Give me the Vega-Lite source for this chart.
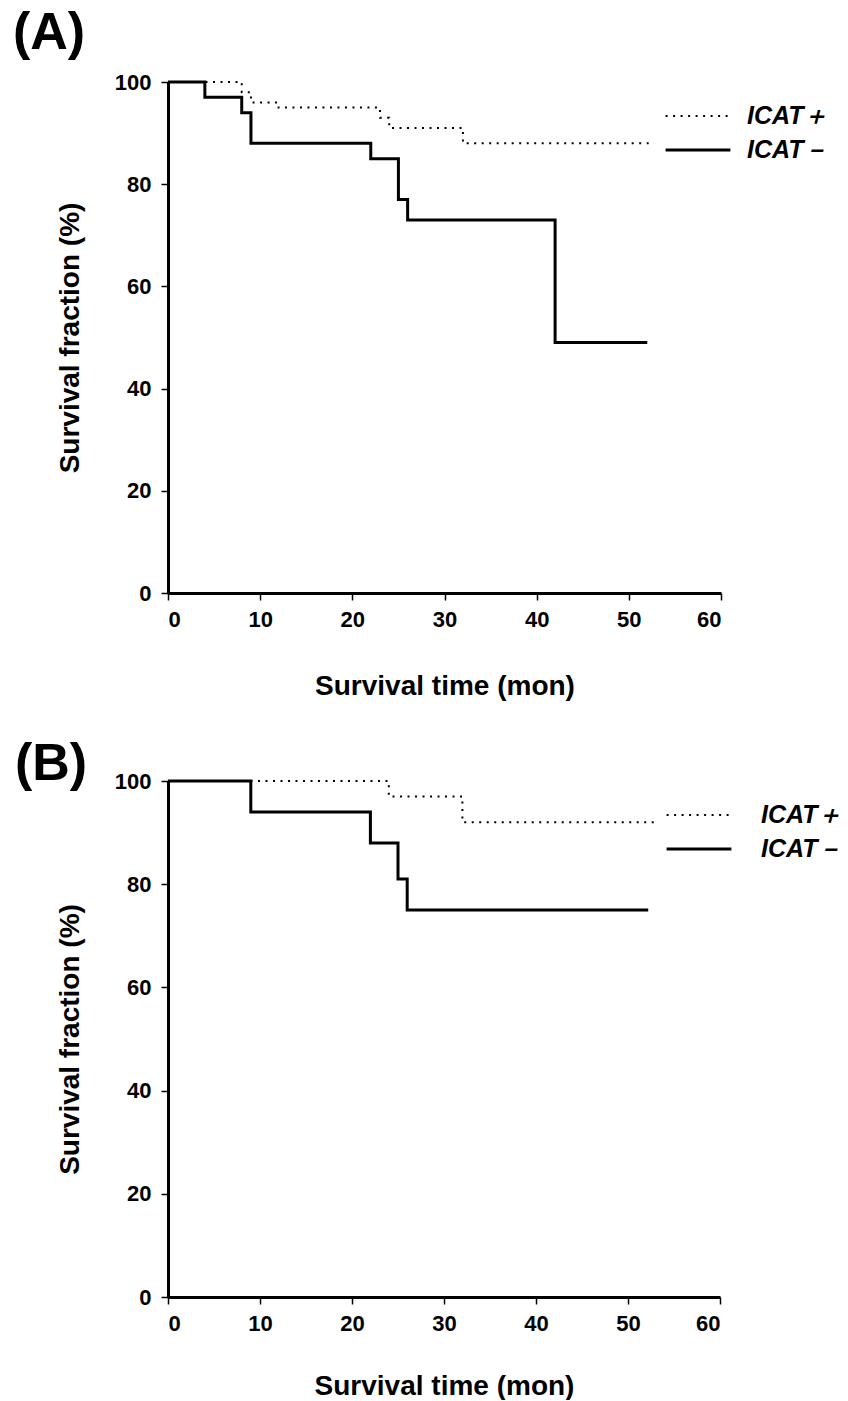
{
  "$schema": "https://vega.github.io/schema/vega-lite/v6.json",
  "background": "white",
  "padding": {"left": 13, "top": 7, "right": 0, "bottom": 0},
  "spacing": 38,
  "resolve": {
    "scale": {"strokeDash": "independent", "strokeWidth": "independent"},
    "legend": {"strokeDash": "independent", "strokeWidth": "independent"}
  },
  "config": {
    "view": {"stroke": null},
    "font": "Liberation Sans",
    "axis": {
      "grid": false,
      "domainColor": "black",
      "domainWidth": 3,
      "tickColor": "black",
      "tickWidth": 1.5,
      "tickSize": 7,
      "labelFont": "Liberation Sans",
      "labelFontWeight": "bold",
      "labelFontSize": 22,
      "labelColor": "black",
      "titleFont": "Liberation Sans",
      "titleFontWeight": "bold",
      "titleFontSize": 28,
      "titleColor": "black"
    },
    "title": {
      "font": "Liberation Sans",
      "fontSize": 52,
      "fontWeight": "bold",
      "anchor": "start",
      "frame": "group",
      "color": "black",
      "baseline": "alphabetic"
    }
  },
  "datasets": {
    "a": [
      {"t": 0, "s": 100, "g": "ICAT＋"},
      {"t": 8, "s": 98, "g": "ICAT＋"},
      {"t": 9, "s": 96, "g": "ICAT＋"},
      {"t": 12, "s": 95, "g": "ICAT＋"},
      {"t": 23, "s": 93, "g": "ICAT＋"},
      {"t": 24, "s": 91, "g": "ICAT＋"},
      {"t": 32, "s": 88, "g": "ICAT＋"},
      {"t": 52.5, "s": 88, "g": "ICAT＋"},
      {"t": 0, "s": 100, "g": "ICAT－"},
      {"t": 4, "s": 97, "g": "ICAT－"},
      {"t": 8, "s": 94, "g": "ICAT－"},
      {"t": 9, "s": 88, "g": "ICAT－"},
      {"t": 22, "s": 85, "g": "ICAT－"},
      {"t": 25, "s": 77, "g": "ICAT－"},
      {"t": 26, "s": 73, "g": "ICAT－"},
      {"t": 42, "s": 49, "g": "ICAT－"},
      {"t": 52, "s": 49, "g": "ICAT－"}
    ],
    "b": [
      {"t": 0, "s": 100, "g": "ICAT＋"},
      {"t": 24, "s": 97, "g": "ICAT＋"},
      {"t": 32, "s": 92, "g": "ICAT＋"},
      {"t": 52.8, "s": 92, "g": "ICAT＋"},
      {"t": 0, "s": 100, "g": "ICAT－"},
      {"t": 9, "s": 94, "g": "ICAT－"},
      {"t": 22, "s": 88, "g": "ICAT－"},
      {"t": 25, "s": 81, "g": "ICAT－"},
      {"t": 26, "s": 75, "g": "ICAT－"},
      {"t": 52.2, "s": 75, "g": "ICAT－"}
    ]
  },
  "vconcat": [
    {
      "title": {"text": "(A)", "dx": -155, "offset": 11},
      "width": 553,
      "height": 511,
      "data": {"name": "a"},
      "mark": {"type": "line", "interpolate": "step-after", "color": "black", "strokeCap": "butt"},
      "encoding": {
        "x": {"field": "t", "type": "quantitative", "scale": {"domain": [0, 60]},
              "axis": {"values": [0, 10, 20, 30, 40, 50, 60], "title": "Survival time (mon)", "labelPadding": 9, "titlePadding": 42}},
        "y": {"field": "s", "type": "quantitative", "scale": {"domain": [0, 100]},
              "axis": {"values": [0, 20, 40, 60, 80, 100], "title": "Survival fraction (%)", "labelPadding": 10, "titlePadding": 30}},
        "strokeDash": {"field": "g", "type": "nominal",
              "scale": {"domain": ["ICAT＋", "ICAT－"], "range": [[2, 5.5], [1, 0]]},
              "legend": {"orient": "none", "legendX": 496, "legendY": 21, "title": null, "symbolType": "stroke", "symbolSize": 4200, "symbolStrokeColor": "black", "labelFontSize": 25, "labelFontStyle": "italic", "labelFontWeight": "bold", "labelColor": "black", "labelOffset": 15, "rowPadding": 8, "clipHeight": 26}},
        "strokeWidth": {"field": "g", "type": "nominal",
              "scale": {"domain": ["ICAT＋", "ICAT－"], "range": [2, 3]},
              "legend": {"orient": "none", "legendX": 496, "legendY": 21, "title": null, "symbolType": "stroke", "symbolSize": 4200, "symbolStrokeColor": "black", "labelFontSize": 25, "labelFontStyle": "italic", "labelFontWeight": "bold", "labelColor": "black", "labelOffset": 15, "rowPadding": 8, "clipHeight": 26}}
      }
    },
    {
      "title": {"text": "(B)", "dx": -153, "offset": -21},
      "width": 552,
      "height": 516,
      "data": {"name": "b"},
      "mark": {"type": "line", "interpolate": "step-after", "color": "black", "strokeCap": "butt"},
      "encoding": {
        "x": {"field": "t", "type": "quantitative", "scale": {"domain": [0, 60]},
              "axis": {"values": [0, 10, 20, 30, 40, 50, 60], "title": "Survival time (mon)", "labelPadding": 9, "titlePadding": 38}},
        "y": {"field": "s", "type": "quantitative", "scale": {"domain": [0, 100]},
              "axis": {"values": [0, 20, 40, 60, 80, 100], "title": "Survival fraction (%)", "labelPadding": 10, "titlePadding": 30}},
        "strokeDash": {"field": "g", "type": "nominal",
              "scale": {"domain": ["ICAT＋", "ICAT－"], "range": [[2, 5.5], [1, 0]]},
              "legend": {"orient": "none", "legendX": 497, "legendY": 21, "title": null, "symbolType": "stroke", "symbolSize": 4200, "symbolStrokeColor": "black", "labelFontSize": 25, "labelFontStyle": "italic", "labelFontWeight": "bold", "labelColor": "black", "labelOffset": 28, "rowPadding": 8, "clipHeight": 26}},
        "strokeWidth": {"field": "g", "type": "nominal",
              "scale": {"domain": ["ICAT＋", "ICAT－"], "range": [2, 3]},
              "legend": {"orient": "none", "legendX": 497, "legendY": 21, "title": null, "symbolType": "stroke", "symbolSize": 4200, "symbolStrokeColor": "black", "labelFontSize": 25, "labelFontStyle": "italic", "labelFontWeight": "bold", "labelColor": "black", "labelOffset": 28, "rowPadding": 8, "clipHeight": 26}}
      }
    }
  ]
}
